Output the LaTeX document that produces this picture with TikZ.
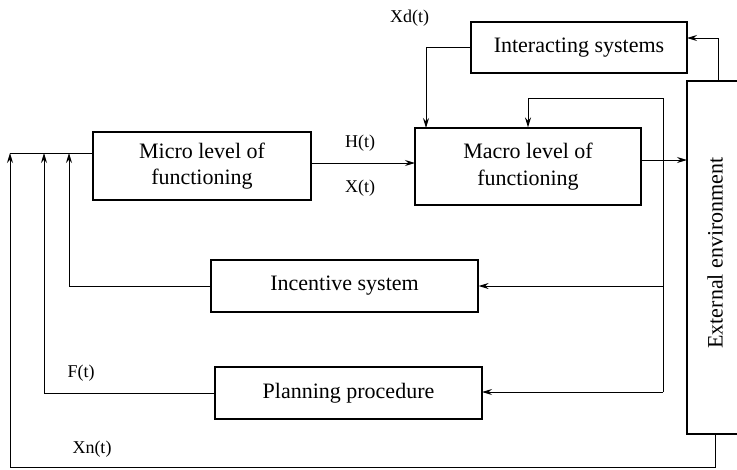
\documentclass[tikz,border=0pt]{standalone}
\usepackage{fontspec}
\setmainfont{Liberation Serif}
\usepackage{tikz}
\usetikzlibrary{positioning,arrows.meta}

\begin{document}
\begin{tikzpicture}[x=0.75pt,y=0.75pt,yscale=-1,xscale=1,
  blk/.style={draw,line width=0.9pt,inner sep=0pt,align=center,font=\fontsize{16.5}{20}\selectfont},
  vtxt/.style={rotate=90,font=\fontsize{16.5}{20}\selectfont},
  sig/.style={font=\fontsize{13.5}{16}\selectfont},
  wire/.style={line width=0.75pt},
  arr/.style={wire,-{Stealth[length=7.5pt,width=4.5pt,inset=2.5pt]}}]
%set diagram: 737 x 469
\useasboundingbox (0,0) rectangle (737,469);

%Shape: Rectangle [micro]
\node[blk,minimum width=163.5pt,minimum height=51pt] (micro) at (202,166) {Micro level of\\functioning};
%Shape: Rectangle [macro]
\node[blk,minimum width=169.5pt,minimum height=57.75pt] (macro) at (528,166.5) {Macro level of\\functioning};
%Shape: Rectangle [interacting]
\node[blk,minimum width=162pt,minimum height=38.25pt] (inter) at (579,47.5) {Interacting systems};
%Shape: Rectangle [incentive]
\node[blk,minimum width=200.25pt,minimum height=39pt] (incent) at (344.5,286) {Incentive system};
%Shape: Rectangle [planning]
\node[blk,minimum width=200.25pt,minimum height=39pt] (plan) at (348.5,393) {Planning procedure};
%Shape: Rectangle [environment], right side cut off by the page
\coordinate (envtl) at (687,81);
\coordinate (envbl) at (687,434);
\draw[line width=0.9pt] (740,81) -- (envtl) -- (envbl) -- (740,434);
\node[vtxt] (envtxt) at (715,253) {External environment};

% branch points
\coordinate (hin) at (311,163);
\coordinate (hout) at (415,163);
\coordinate (mout) at (687,160);
\coordinate (envup) at (718,81);
\coordinate (intin) at (687,38);
\coordinate (xdin) at (426,128);
\coordinate (bus) at (663,98);
\coordinate (busin) at (663,392);
\coordinate (planin) at (482,392);
\coordinate (microin) at (93,153);
\coordinate (fbleft) at (10,153);
\coordinate (fbinc) at (69,153);
\coordinate (fbplan) at (44,153);
\coordinate (envout) at (715,434);
\coordinate (xnbot) at (10,467);

%Straight Lines
\draw[arr] (hin) -- (hout);
\draw[arr] (macro.east |- mout) -- (mout);
\draw[arr] (envup) |- (intin);
\draw[arr] (inter.west) -| (xdin);
\draw[arr] (busin) -- (bus) -| (macro.north);
\draw[arr] (incent.east -| bus) -- (incent.east);
\draw[arr] (busin) -- (planin);
\draw[wire] (microin) -- (fbleft);
\draw[arr] (incent.west) -| (fbinc);
\draw[arr] (plan.west) -| (fbplan);
\draw[arr] (envout) |- (xnbot) -- (fbleft);

% Text Node
\node[sig] (ht) at (360,143) {H(t)};
% Text Node
\node[sig] (xt) at (360,188) {X(t)};
% Text Node
\node[sig] (xdt) at (409.5,18) {Xd(t)};
% Text Node
\node[sig] (ft) at (81,373) {F(t)};
% Text Node
\node[sig] (xnt) at (92,449) {Xn(t)};

\end{tikzpicture}
\end{document}
